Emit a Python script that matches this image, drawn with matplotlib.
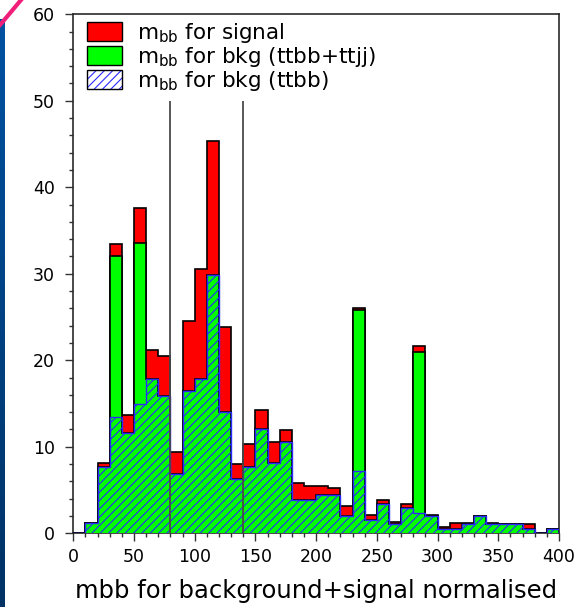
import numpy as np
import matplotlib
matplotlib.use("Agg")
import matplotlib.pyplot as plt
from matplotlib.patches import Patch
from matplotlib.lines import Line2D
from matplotlib.legend_handler import HandlerTuple
from matplotlib.ticker import MultipleLocator
from matplotlib.colors import LinearSegmentedColormap

# 10-unit bins of m_bb from 0 to 400
bin_edges = np.arange(0, 410, 10)

# per-bin contents (normalised)
ttbb = [0.0, 1.2, 7.7, 13.5, 11.6, 15.0, 17.8, 15.9, 6.8, 16.4,
        17.8, 29.9, 14.0, 6.3, 7.7, 12.0, 8.1, 10.6, 3.9, 3.9,
        4.4, 4.4, 2.0, 7.2, 1.5, 3.4, 1.1, 2.9, 2.4, 2.05,
        0.5, 0.55, 1.1, 2.0, 1.05, 1.05, 1.05, 0.5, 0.0, 0.55]
ttjj = [0.0, 0.0, 0.0, 18.6, 0.0, 18.6, 0.0, 0.0, 0.0, 0.0,
        0.0, 0.0, 0.0, 0.0, 0.0, 0.0, 0.0, 0.0, 0.0, 0.0,
        0.0, 0.0, 0.0, 18.6, 0.0, 0.0, 0.0, 0.0, 18.6, 0.0,
        0.0, 0.0, 0.0, 0.0, 0.0, 0.0, 0.0, 0.0, 0.0, 0.0]
signal = [0.0, 0.0, 0.4, 1.35, 2.1, 4.0, 3.35, 4.6, 2.55, 8.1,
          12.7, 15.4, 9.9, 1.7, 2.6, 2.2, 2.45, 1.3, 1.9, 1.6,
          1.1, 0.8, 1.2, 0.3, 0.6, 0.5, 0.25, 0.45, 0.6, 0.05,
          0.27, 0.65, 0.07, 0.0, 0.15, 0.0, 0.0, 0.55, 0.0, 0.0]

# mass window markers
window = [80, 140]
window_top = 50

x_ticks_major, x_ticks_minor = 50, 10
y_ticks_major, y_ticks_minor = 10, 2

labels = [r"$\mathregular{m_{bb}}$ for signal",
          r"$\mathregular{m_{bb}}$ for bkg (ttbb+ttjj)",
          r"$\mathregular{m_{bb}}$ for bkg (ttbb)"]
xlabel = "mbb for background+signal normalised"

RED, GREEN, BLUE = "#ff0000", "#00ff00", "#2a2aff"

plt.rcParams["font.family"] = "DejaVu Sans"
plt.rcParams["hatch.linewidth"] = 0.8

W, H = 581, 607
fig = plt.figure(figsize=(W / 100, H / 100), dpi=100)
fig.patch.set_facecolor("white")

ax = fig.add_axes([73.3 / W, 1 - 533.3 / H, (559 - 73.3) / W, (533.3 - 14.3) / H])

ttbb_a = np.array(ttbb)
bkg = ttbb_a + np.array(ttjj)
total = bkg + np.array(signal)

ax.stairs(total, bin_edges, fill=True, facecolor=RED, edgecolor="black",
          linewidth=1.2, baseline=0, zorder=2)
ax.stairs(bkg, bin_edges, fill=True, facecolor=GREEN, edgecolor="black",
          linewidth=1.2, baseline=0, zorder=3)
ax.stairs(ttbb_a, bin_edges, fill=True, facecolor="none", edgecolor=BLUE,
          hatch="////", linewidth=1.0, baseline=0, zorder=4)

ax.vlines(window, 0, window_top, color="#4a4a4a", linewidth=1.3, zorder=5)

ax.set_xlim(0, 400)
ax.set_ylim(0, 60)
ax.xaxis.set_major_locator(MultipleLocator(x_ticks_major))
ax.xaxis.set_minor_locator(MultipleLocator(x_ticks_minor))
ax.yaxis.set_major_locator(MultipleLocator(y_ticks_major))
ax.yaxis.set_minor_locator(MultipleLocator(y_ticks_minor))
ax.tick_params(which="major", direction="out", length=5.8, width=1.0,
               color="#333333", labelsize=12.5)
ax.tick_params(which="minor", direction="out", length=2.9, width=1.0,
               color="#333333")
ax.tick_params(axis="y", which="major", pad=7.5)
ax.tick_params(axis="x", which="major", pad=5)
for s in ax.spines.values():
    s.set_linewidth(1.2)
    s.set_color("#2a2a2a")

ax.set_xlabel(xlabel, fontsize=17.5, labelpad=9)

handles = [
    Patch(facecolor=RED, edgecolor="black", linewidth=1.0),
    Patch(facecolor=GREEN, edgecolor="black", linewidth=1.0),
    (Patch(facecolor="white", edgecolor=BLUE, hatch="////", linewidth=0),
     Patch(facecolor="none", edgecolor="black", linewidth=1.0)),
]
fs = 15.5
fs_px = fs * 100 / 72
ax.legend(handles, labels, loc="upper left",
          bbox_to_anchor=((87.3 - 73.3) / (559 - 73.3), (533.3 - 21) / (533.3 - 14.3)),
          frameon=False, fontsize=fs, borderpad=0, borderaxespad=0,
          handlelength=35 / fs_px, handleheight=21 / fs_px,
          handletextpad=15 / fs_px, labelspacing=0.0,
          handler_map={tuple: HandlerTuple(ndivide=1, pad=0)})

# slide edge decoration on the left
deco = fig.add_axes([0, 0, 5 / W, (H - 19) / H])
grad = np.linspace(0, 1, 256).reshape(-1, 1)
cmap = LinearSegmentedColormap.from_list("edge", ["#0052a2", "#003264"])
deco.imshow(grad, aspect="auto", cmap=cmap, extent=[0, 1, 0, 1], origin="upper")
deco.axis("off")
fig.add_artist(Line2D([0, 21 / W], [1 - 25 / H, 1], transform=fig.transFigure,
                      color="#f0207a", linewidth=3))

fig.savefig("out.png", dpi=100)
